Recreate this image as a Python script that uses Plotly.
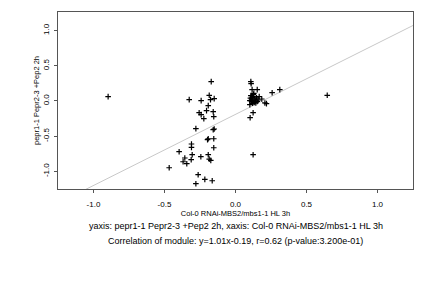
import plotly.graph_objects as go

x_vals = [-0.897, -0.171, -0.326, -0.242, -0.185, -0.176, -0.150, -0.192, -0.256, -0.242,
          -0.204, -0.157, -0.153, -0.223, -0.279, -0.157, -0.150, -0.197, -0.192, -0.153,
          -0.310, -0.310, -0.153, -0.397, -0.305, -0.244, -0.192, -0.357, -0.312, -0.185,
          -0.174, -0.369, -0.343, -0.467, -0.263, -0.216, -0.164, -0.279,
          0.108, 0.110, 0.117, 0.153, 0.129, 0.108, 0.124, 0.167, 0.185, 0.101,
          0.113, 0.129, 0.153, 0.143, 0.101, 0.207, 0.218, 0.258, 0.312, 0.646,
          0.124, 0.103, 0.124, 0.115, 0.136, 0.120, 0.160, 0.105, 0.118, 0.140,
          0.132, 0.148, 0.110, 0.126]
y_vals = [0.062, 0.275, 0.019, 0.005, 0.081, 0.019, 0.033, -0.066, -0.166, -0.194,
          -0.137, -0.152, -0.223, -0.251, -0.393, -0.408, -0.398, -0.550, -0.536, -0.536,
          -0.611, -0.659, -0.664, -0.720, -0.763, -0.791, -0.763, -0.810, -0.834, -0.825,
          -0.844, -0.863, -0.891, -0.948, -1.047, -1.114, -1.133, -1.175,
          0.275, 0.246, 0.161, 0.161, 0.109, 0.076, 0.062, 0.062, 0.028, 0.005,
          -0.005, -0.014, -0.005, -0.028, -0.052, -0.028, -0.038, 0.118, 0.161, 0.081,
          -0.166, -0.237, -0.763, 0.028, 0.028, -0.033, 0.014, 0.040, 0.050, 0.000,
          -0.020, 0.045, 0.010, 0.090]

slope = 1.01
intercept = -0.19
x_range = [-1.25, 1.25]
y_range = [-1.25, 1.264]

tick_vals = [-1.0, -0.5, 0.0, 0.5, 1.0]
tick_text = ["-1.0", "-0.5", "0.0", "0.5", "1.0"]

x_title = "Col-0 RNAi-MBS2/mbs1-1 HL 3h"
y_title = "pepr1-1 Pepr2-3 +Pep2 2h"
note1 = "yaxis: pepr1-1 Pepr2-3 +Pep2 2h, xaxis: Col-0 RNAi-MBS2/mbs1-1 HL 3h"
note2 = "Correlation of module: y=1.01x-0.19, r=0.62 (p-value:3.200e-01)"

font = "Liberation Sans, Arial, sans-serif"

fig = go.Figure()
line_x = [x_range[0], x_range[1]]
fig.add_trace(go.Scatter(x=line_x, y=[slope * v + intercept for v in line_x], mode="lines",
                         line=dict(color="#c8c8c8", width=1), hoverinfo="skip"))
fig.add_trace(go.Scatter(x=x_vals, y=y_vals, mode="markers",
                         marker=dict(symbol="cross-thin", size=4, line=dict(color="black", width=1.2))))

axis_common = dict(showgrid=False, zeroline=False, showline=True, mirror=True,
                   linecolor="#555555", linewidth=1, ticks="outside", ticklen=3,
                   tickcolor="#555555", tickvals=tick_vals, ticktext=tick_text,
                   tickfont=dict(family=font, size=8, color="black"))
fig.update_xaxes(range=x_range, **axis_common, ticklabelstandoff=4,
                 title=dict(text=x_title, font=dict(family=font, size=7.5, color="black"), standoff=3))
fig.update_yaxes(range=y_range, **axis_common, tickangle=-90, ticklabelstandoff=2,
                 title=dict(text=y_title, font=dict(family=font, size=7.5, color="black"), standoff=1))

fig.add_annotation(text=note1, xref="paper", yref="paper", x=0.5, y=-0.21, yanchor="middle",
                   showarrow=False, font=dict(family=font, size=9, color="black"))
fig.add_annotation(text=note2, xref="paper", yref="paper", x=0.5, y=-0.293, yanchor="middle",
                   showarrow=False, font=dict(family=font, size=9, color="black"))

fig.update_layout(width=432, height=288, showlegend=False,
                  margin=dict(l=58, r=19, t=12, b=99, pad=0),
                  paper_bgcolor="white", plot_bgcolor="white")
fig.write_html("out.html")
